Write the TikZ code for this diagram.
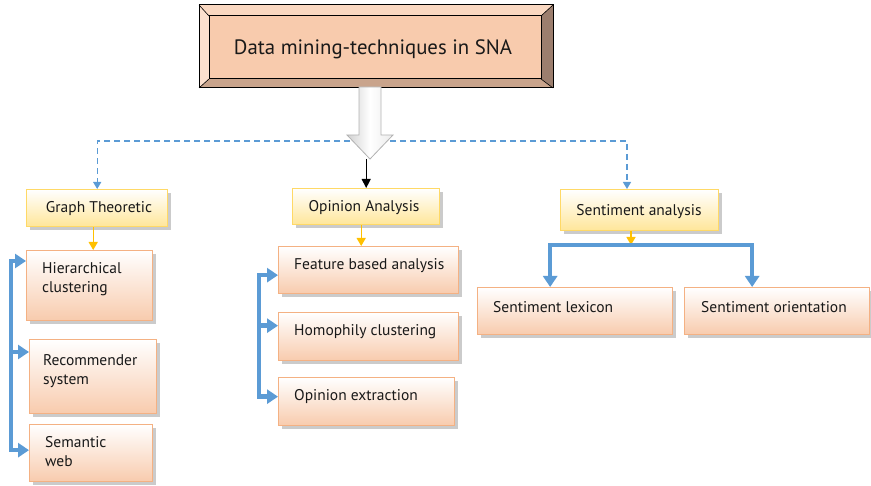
\documentclass[tikz,border=0pt]{standalone}
\usepackage{fontspec}
\setmainfont{PT Sans}
\usetikzlibrary{arrows.meta,shadows,calc}
\definecolor{blu}{HTML}{5B9BD5}
\definecolor{yarrow}{HTML}{FFC000}
\definecolor{yborder}{HTML}{FFD966}
\definecolor{yfill}{HTML}{FFE699}
\definecolor{oborder}{HTML}{F4B183}
\definecolor{ofill}{HTML}{F8CBAD}
\definecolor{tface}{HTML}{F8CBAD}
\definecolor{ttop}{HTML}{FAD8C1}
\definecolor{tleft}{HTML}{FCE0CE}
\definecolor{tright}{HTML}{9C7E6E}
\definecolor{tbottom}{HTML}{C9A48C}
\tikzset{
  shad/.style={drop shadow={shadow xshift=3pt,shadow yshift=-3pt,fill=black!45,opacity=0.45}},
  ybox/.style={draw=yborder,line width=1.4pt,top color=white,bottom color=yfill,shad,
    inner sep=0pt,anchor=north west},
  obox/.style={draw=oborder,line width=1.3pt,top color=white,bottom color=ofill,shad,
    inner sep=0pt,anchor=north west},
  txt/.style={font=\fontsize{15.5}{19}\selectfont,inner sep=0pt,text=black!90},
  ltxt/.style={txt,anchor=base west,align=left},
  ctxt/.style={txt,anchor=base},
  br/.style={draw=blu,line width=4.5pt},
  bhead/.style={-{Triangle[width=14pt,length=11pt]}},
  yarr/.style={draw=yarrow,line width=1.4pt,-{Triangle[width=9pt,length=8pt]}},
  dashline/.style={draw=blu,line width=1.3pt,dash pattern=on 6pt off 4pt,-{Triangle[width=8pt,length=7pt]}},
}
\begin{document}
\begin{tikzpicture}[x=1pt,y=-1pt]
\useasboundingbox (0,0) rectangle (871,486);
% title with bevel
\node[draw=black,line width=1pt,fill=tface,minimum width=353pt,minimum height=82pt,inner sep=0pt,anchor=north west] (title) at (199,5) {};
\fill[ttop] (title.north west) -- (title.north east) -- ($(title.north east)+(-12,11)$) -- ($(title.north west)+(10,11)$) -- cycle;
\fill[tleft] (title.north west) -- ($(title.north west)+(10,11)$) -- ($(title.south west)+(10,-9)$) -- (title.south west) -- cycle;
\fill[tright] (title.north east) -- ($(title.north east)+(-12,11)$) -- ($(title.south east)+(-12,-9)$) -- (title.south east) -- cycle;
\fill[tbottom] (title.south west) -- ($(title.south west)+(10,-9)$) -- ($(title.south east)+(-12,-9)$) -- (title.south east) -- cycle;
\draw[line width=1pt] (title.north west) rectangle (title.south east);
\draw[line width=1pt] ($(title.north west)+(10,11)$) rectangle ($(title.south east)+(-12,-9)$);
\draw[line width=0.6pt] (title.north west) -- ++(10,11) (title.north east) -- ++(-12,11)
  (title.south west) -- ++(10,-9) (title.south east) -- ++(-12,-9);
\node[txt,font=\fontsize{20.8}{24}\selectfont,anchor=base] (titletext) at (373,55) {Data mining-techniques in SNA};

% category boxes
\node[ybox,minimum width=141pt,minimum height=37pt] (gt) at (26,189) {};
\node[ybox,minimum width=147pt,minimum height=36pt] (oa) at (292,188) {};
\node[ybox,minimum width=158pt,minimum height=41pt] (sa) at (560,189) {};
\node[ctxt] (gtt) at (99,213) {Graph Theoretic};
\node[ctxt] (oat) at (364,212) {Opinion Analysis};
\node[ctxt] (sat) at (639,216) {Sentiment analysis};

% leaf boxes
\node[obox,minimum width=126pt,minimum height=70pt] (hc) at (26,250) {};
\node[obox,minimum width=127pt,minimum height=74pt] (rs) at (29,339) {};
\node[obox,minimum width=123pt,minimum height=57pt] (sw) at (29,424) {};
\node[obox,minimum width=180pt,minimum height=47pt] (fb) at (278,246) {};
\node[obox,minimum width=180pt,minimum height=48pt] (hm) at (278,312) {};
\node[obox,minimum width=176pt,minimum height=48pt] (oe) at (278,377) {};
\node[obox,minimum width=195pt,minimum height=47pt] (sl) at (477,287) {};
\node[obox,minimum width=185pt,minimum height=47pt] (so) at (684,287) {};
\node[ltxt] (hct) at (42,293) {Hierarchical\\clustering};
\node[ltxt] (rst) at (43,385) {Recommender\\system};
\node[ltxt] (swt) at (45,467) {Semantic\\web};
\node[ltxt] (fbt) at (294,270) {Feature based analysis};
\node[ltxt] (hmt) at (294,336) {Homophily clustering};
\node[ltxt] (oet) at (294,401) {Opinion extraction};
\node[ltxt] (slt) at (493,313) {Sentiment lexicon};
\node[ltxt] (sot) at (701,313) {Sentiment orientation};

% dashed distribution line
\coordinate (hub) at (370,141);
\coordinate (saIn) at (627,189);
\draw[dashline] (hub) -| (gt.north);
\draw[dashline] (hub) -| (saIn);

% block arrow
\coordinate (tip) at (370,159);
\path[left color=black!18,right color=black!8,middle color=white,draw=black!30,line width=0.8pt]
  ($(tip)+(-11,-72)$) -- ($(tip)+(11,-72)$) -- ($(tip)+(11,-24)$) -- ($(tip)+(23,-24)$)
  -- (tip) -- ($(tip)+(-23,-24)$) -- ($(tip)+(-11,-24)$) -- cycle;
\draw[line width=1.2pt,-{Triangle[width=9pt,length=9pt]}] (oa.north |- tip) -- (oa.north);

% yellow arrows
\coordinate (gtb) at ($(gt.south)+(-4,0)$);
\coordinate (oab) at ($(oa.south)+(-5,0)$);
\coordinate (rhub) at (631,245);
\draw[yarr] (gtb) -- (gtb |- hc.north);
\draw[yarr] (oab) -- (oab |- fb.north);
\draw[yarr] (sa.south -| rhub) -- (rhub);

% left bracket
\coordinate (L) at (11,0);
\draw[br,{Triangle[width=14pt,length=11pt]}-{Triangle[width=14pt,length=11pt]}]
  ($(hc.north west)+(0,11)$) -| ($(L |- sw.west)+(0,-3)$) -- ($(sw.west)+(0,-3)$);
\draw[br,bhead] ($(L |- rs.north west)+(0,13)$) -- ($(rs.north west)+(0,13)$);

% middle bracket
\coordinate (M) at (259,0);
\draw[br,{Triangle[width=14pt,length=11pt]}-{Triangle[width=14pt,length=11pt]}]
  ($(fb.west)+(0,5)$) -| ($(M |- oe.west)+(0,-5)$) -- ($(oe.west)+(0,-5)$);
\draw[br,bhead] ($(M |- hm.west)+(0,-11)$) -- ($(hm.west)+(0,-11)$);

% right bracket
\draw[br,{Triangle[width=14pt,length=11pt]}-{Triangle[width=14pt,length=11pt]}]
  ($(sl.north)+(-25,0)$) |- (rhub) -| ($(so.north)+(-25,0)$);
\end{tikzpicture}
\end{document}
